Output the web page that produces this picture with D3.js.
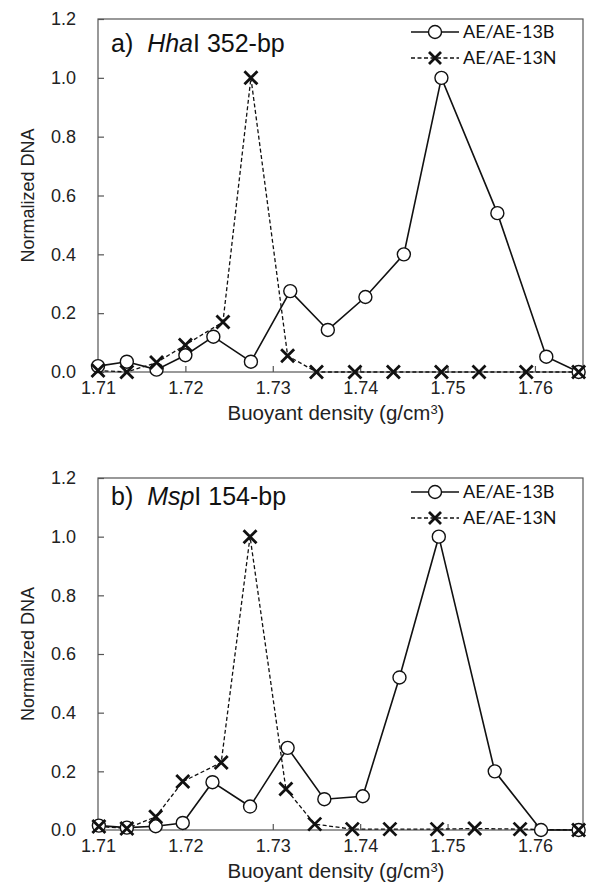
<!DOCTYPE html>
<html><head><meta charset="utf-8">
<script src="https://cdn.jsdelivr.net/npm/d3@7"></script>
<style>body{margin:0;background:#fff}</style>
</head><body><svg id="c" width="595" height="896" xmlns="http://www.w3.org/2000/svg"></svg>
<script>
// ---- data ----
const xTicks = [1.71, 1.72, 1.73, 1.74, 1.75, 1.76];
const yTicks = [0, 0.2, 0.4, 0.6, 0.8, 1.0, 1.2];
const seriesNames = ["AE/AE-13B", "AE/AE-13N"];
const panelLabels = [["a)  ", "Hha", "I 352-bp"], ["b)  ", "Msp", "I 154-bp"]];

const hhaB = [[1.71,0.02],[1.7133,0.035],[1.7167,0.008],[1.72,0.057],[1.7232,0.12],[1.7275,0.035],
  [1.732,0.275],[1.7363,0.143],[1.7406,0.255],[1.745,0.40],[1.7493,1.0],[1.7557,0.54],[1.7613,0.052],[1.765,0.0]];
const hhaN = [[1.71,0.005],[1.7133,0.0],[1.7167,0.032],[1.72,0.092],[1.7243,0.17],[1.7275,1.0],
  [1.7317,0.055],[1.735,0.0],[1.7394,0.0],[1.7438,0.0],[1.7493,0.0],[1.7536,0.0],[1.759,0.0],[1.765,0.0]];
const mspB = [[1.7101,0.015],[1.7133,0.008],[1.7166,0.013],[1.7197,0.024],[1.7231,0.163],[1.7274,0.08],
  [1.7317,0.28],[1.7359,0.105],[1.7403,0.115],[1.7445,0.52],[1.749,1.0],[1.7554,0.20],[1.7607,0.0],[1.765,0.0]];
const mspN = [[1.7101,0.012],[1.7133,0.005],[1.7166,0.045],[1.7197,0.165],[1.7241,0.23],[1.7274,1.0],
  [1.7315,0.14],[1.7348,0.02],[1.7391,0.003],[1.7434,0.003],[1.7488,0.003],[1.7531,0.005],[1.7583,0.003],[1.765,0.0]];

// ---- drawing ----
const svg = d3.select("#c");
const FONT = "Liberation Sans, Arial, sans-serif";
const LFONT = "Lato, 'Open Sans', sans-serif";
const left = 98, right = 583;
const panels = [
  {top: 19, bottom: 372, B: hhaB, N: hhaN, label: panelLabels[0], titleY: 52, legY: 32},
  {top: 478, bottom: 830, B: mspB, N: mspN, label: panelLabels[1], titleY: 505, legY: 492}
];

function crossPath(s){ return `M${-s},${-s}L${s},${s}M${-s},${s}L${s},${-s}`; }

panels.forEach(p => {
  const x = d3.scaleLinear().domain([1.71, 1.7655]).range([left, right]);
  const y = d3.scaleLinear().domain([0, 1.2]).range([p.bottom, p.top]);
  const g = svg.append("g");

  // frame
  g.append("rect").attr("x", left).attr("y", p.top).attr("width", right-left).attr("height", p.bottom-p.top)
    .attr("fill", "none").attr("stroke", "#555").attr("stroke-width", 1.2);

  // y axis
  const ya = g.append("g").attr("transform", `translate(${left},0)`)
    .call(d3.axisLeft(y).tickValues(yTicks).tickFormat(d3.format(".1f")).tickSizeInner(-6).tickSizeOuter(0).tickPadding(22));
  ya.select(".domain").remove();
  ya.selectAll("line").attr("stroke", "#555").attr("stroke-width", 1.2);
  ya.selectAll("text").attr("font-family", FONT).attr("font-size", 18).attr("fill", "#222");

  // x axis
  const xa = g.append("g").attr("transform", `translate(0,${p.bottom})`)
    .call(d3.axisBottom(x).tickValues(xTicks).tickFormat(d3.format(".2f")).tickSizeInner(-6).tickSizeOuter(0).tickPadding(9));
  xa.select(".domain").remove();
  xa.selectAll("line").attr("stroke", "#555").attr("stroke-width", 1.2);
  xa.selectAll("text").attr("font-family", FONT).attr("font-size", 18).attr("fill", "#222");

  // axis titles
  const xt = g.append("text").attr("x", 336).attr("y", p.bottom + 48).attr("text-anchor", "middle")
    .attr("font-family", FONT).attr("font-size", 20.5).attr("fill", "#222");
  xt.append("tspan").text("Buoyant density (g/cm");
  xt.append("tspan").attr("font-size", 13).attr("dy", -6.5).text("3");
  xt.append("tspan").attr("dy", 6.5).text(")");

  g.append("text").attr("transform", `translate(34,${(p.top+p.bottom)/2}) rotate(-90)`).attr("text-anchor", "middle")
    .attr("font-family", FONT).attr("font-size", 18).attr("fill", "#222").text("Normalized DNA");

  // panel title
  const tt = g.append("text").attr("x", left + 13).attr("y", p.titleY)
    .attr("font-family", FONT).attr("font-size", 25).attr("fill", "#111").attr("xml:space", "preserve")
    .style("white-space", "pre");
  tt.append("tspan").text(p.label[0]);
  tt.append("tspan").attr("font-style", "italic").text(p.label[1]);
  tt.append("tspan").text(p.label[2]);

  const line = d3.line().x(d => x(d[0])).y(d => y(d[1]));

  // N series (dashed, crosses)
  g.append("path").datum(p.N).attr("d", line).attr("fill", "none").attr("stroke", "#111")
    .attr("stroke-width", 1.3).attr("stroke-dasharray", "4,2.5");
  // B series (solid, circles)
  g.append("path").datum(p.B).attr("d", line).attr("fill", "none").attr("stroke", "#111").attr("stroke-width", 1.6);

  g.selectAll("circle.b").data(p.B).join("circle").attr("class", "b")
    .attr("cx", d => x(d[0])).attr("cy", d => y(d[1])).attr("r", 6.5)
    .attr("fill", "#fff").attr("stroke", "#111").attr("stroke-width", 1.4);
  g.selectAll("path.n").data(p.N).join("path").attr("class", "n")
    .attr("transform", d => `translate(${x(d[0])},${y(d[1])})`).attr("d", crossPath(6.5))
    .attr("fill", "none").attr("stroke", "#111").attr("stroke-width", 2.8);

  // legend
  const lx1 = 411, lx2 = 459, lc = (lx1+lx2)/2, ly1 = p.legY, ly2 = p.legY + 26;
  g.append("line").attr("x1", lx1).attr("x2", lx2).attr("y1", ly1).attr("y2", ly1).attr("stroke", "#111").attr("stroke-width", 1.6);
  g.append("circle").attr("cx", lc).attr("cy", ly1).attr("r", 6.5).attr("fill", "#fff").attr("stroke", "#111").attr("stroke-width", 1.4);
  g.append("text").attr("x", lx2 + 4).attr("y", ly1 + 6).attr("font-family", LFONT).attr("font-size", 18).attr("fill", "#111").text(seriesNames[0]);
  g.append("line").attr("x1", lx1).attr("x2", lx2).attr("y1", ly2).attr("y2", ly2).attr("stroke", "#111").attr("stroke-width", 1.3).attr("stroke-dasharray", "4,2.5");
  g.append("path").attr("transform", `translate(${lc},${ly2})`).attr("d", crossPath(6)).attr("fill", "none").attr("stroke", "#111").attr("stroke-width", 2.8);
  g.append("text").attr("x", lx2 + 4).attr("y", ly2 + 6).attr("font-family", LFONT).attr("font-size", 18).attr("fill", "#111").text(seriesNames[1]);
});
</script></body></html>
